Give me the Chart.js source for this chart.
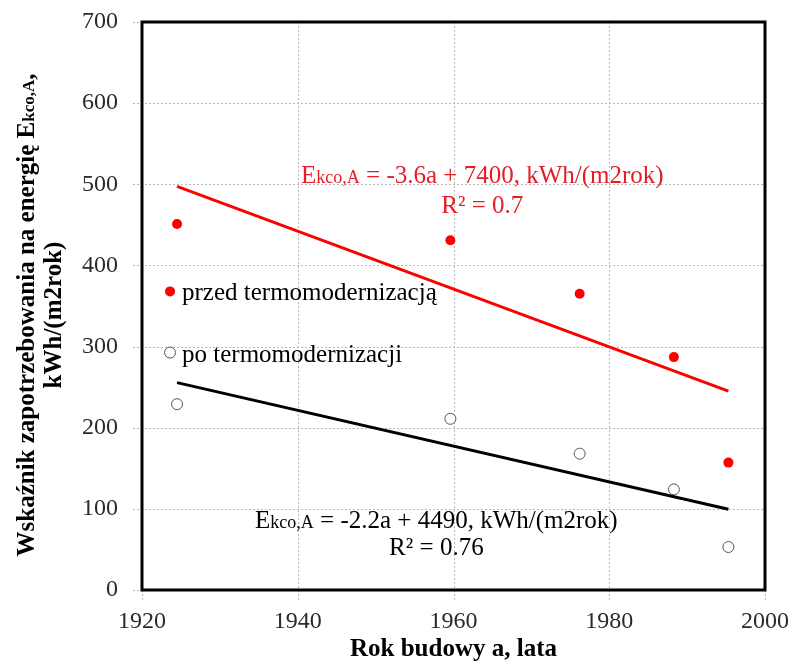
<!DOCTYPE html>
<html>
<head>
<meta charset="utf-8">
<script src="https://cdn.jsdelivr.net/npm/chart.js@4/dist/chart.umd.min.js"></script>
<style>
  html, body { margin: 0; padding: 0; background: #fff; }
  #wrap { width: 792px; height: 661px; position: relative; }
</style>
</head>
<body>
<div id="wrap"><canvas id="wykres"></canvas></div>
<script>
// rok budowy budynkow
const lata = [1924.5, 1959.6, 1976.2, 1988.3, 1995.3];
// wskaznik przed termomodernizacja
const przed = [451, 431, 365, 287, 157];
// wskaznik po termomodernizacji
const po = [229, 211, 168, 124, 53];
// linie trendu (punkty koncowe)
const trendLata = [1924.5, 1995.3];
const trendPrzed = [497.5, 245];
const trendPo = [255.6, 99.6];
const ticksX = [1920, 1940, 1960, 1980, 2000];
const ticksY = [0, 100, 200, 300, 400, 500, 600, 700];

const SERIF = "'Liberation Serif', 'Times New Roman', serif";

function pary(xs, ys) { return xs.map((x, i) => ({ x: x, y: ys[i] })); }

// tekst z mniejszym fragmentem (np. Ekco,A)
function rich(ctx, parts, cx, y, color) {
  let w = 0;
  parts.forEach(p => { ctx.font = p[1]; w += ctx.measureText(p[0]).width; });
  let x = cx - w / 2;
  ctx.fillStyle = color;
  ctx.textAlign = "left";
  ctx.textBaseline = "alphabetic";
  parts.forEach(p => { ctx.font = p[1]; ctx.fillText(p[0], x, y); x += ctx.measureText(p[0]).width; });
}

// siatka kropkowana
const siatka = {
  id: "siatka",
  beforeDatasetsDraw(chart) {
    const ctx = chart.ctx, a = chart.chartArea;
    const sx = chart.scales.x, sy = chart.scales.y;
    ctx.save();
    ctx.strokeStyle = "#b8b8b8";
    ctx.lineWidth = 1;
    ctx.setLineDash([2, 2]);
    ticksX.forEach(v => {
      const px = Math.round(sx.getPixelForValue(v)) + 0.5;
      ctx.beginPath(); ctx.moveTo(px, a.top); ctx.lineTo(px, a.bottom + 10); ctx.stroke();
    });
    ticksY.forEach(v => {
      const py = Math.round(sy.getPixelForValue(v)) + 0.5;
      ctx.beginPath(); ctx.moveTo(a.left - 9, py); ctx.lineTo(a.right, py); ctx.stroke();
    });
    ctx.restore();
  }
};

const opisy = {
  id: "opisy",
  afterDatasetsDraw(chart) {
    const ctx = chart.ctx, a = chart.chartArea;
    const sx = chart.scales.x, sy = chart.scales.y;
    ctx.save();
    // ramka wykresu
    ctx.strokeStyle = "#000";
    ctx.lineWidth = 3;
    ctx.strokeRect(a.left, a.top, a.right - a.left, a.bottom - a.top);

    const big = "25px " + SERIF, small = "18px " + SERIF;
    rich(ctx, [["E", big], ["kco,A", small], [" = -3.6a + 7400, kWh/(m2rok)", big]], sx.getPixelForValue(1963.7), sy.getPixelForValue(502), "#e31e24");
    rich(ctx, [["R² = 0.7", big]], sx.getPixelForValue(1963.7), sy.getPixelForValue(465), "#e31e24");
    rich(ctx, [["E", big], ["kco,A", small], [" = -2.2a + 4490, kWh/(m2rok)", big]], sx.getPixelForValue(1957.8), sy.getPixelForValue(77), "#000");
    rich(ctx, [["R² = 0.76", big]], sx.getPixelForValue(1957.8), sy.getPixelForValue(43), "#000");

    // legenda
    const lx = sx.getPixelForValue(1923.6);
    const l1 = sy.getPixelForValue(368), l2 = sy.getPixelForValue(292.6);
    ctx.beginPath(); ctx.arc(lx, l1, 5, 0, Math.PI * 2);
    ctx.fillStyle = "#ff0000"; ctx.fill();
    ctx.beginPath(); ctx.arc(lx, l2, 5.5, 0, Math.PI * 2);
    ctx.fillStyle = "#fff"; ctx.fill();
    ctx.strokeStyle = "#555"; ctx.lineWidth = 1; ctx.stroke();
    ctx.font = big; ctx.fillStyle = "#000"; ctx.textAlign = "left"; ctx.textBaseline = "alphabetic";
    ctx.fillText("przed termomodernizacją", lx + 12, l1 + 9);
    ctx.fillText("po termomodernizacji", lx + 12, l2 + 9);

    // tytuly osi
    const bold = "bold 25px " + SERIF, boldSmall = "bold 17px " + SERIF;
    ctx.save();
    ctx.translate(34, 315);
    ctx.rotate(-Math.PI / 2);
    rich(ctx, [["Wskaźnik zapotrzebowania na energię E", bold], ["kco,A", boldSmall], [",", bold]], 0, 0, "#000");
    ctx.restore();
    ctx.save();
    ctx.translate(61, 315);
    ctx.rotate(-Math.PI / 2);
    rich(ctx, [["kWh/(m2rok)", bold]], 0, 0, "#000");
    ctx.restore();
    rich(ctx, [["Rok budowy a, lata", bold]], (a.left + a.right) / 2, 656, "#000");
    ctx.restore();
  }
};

new Chart(document.getElementById("wykres"), {
  type: "scatter",
  data: {
    datasets: [
      { label: "trend przed", type: "line", data: pary(trendLata, trendPrzed), borderColor: "#ff0000", borderWidth: 3, pointRadius: 0, fill: false },
      { label: "trend po", type: "line", data: pary(trendLata, trendPo), borderColor: "#000", borderWidth: 3, pointRadius: 0, fill: false },
      { label: "przed termomodernizacją", data: pary(lata, przed), backgroundColor: "#ff0000", borderColor: "#ff0000", pointRadius: 5, borderWidth: 0 },
      { label: "po termomodernizacji", data: pary(lata, po), backgroundColor: "#fff", borderColor: "#555", pointRadius: 5.5, borderWidth: 1 }
    ]
  },
  options: {
    responsive: true,
    maintainAspectRatio: false,
    animation: false,
    layout: { padding: { top: 22, right: 27, left: 0, bottom: 0 } },
    plugins: { legend: { display: false }, tooltip: { enabled: false } },
    scales: {
      x: {
        type: "linear", min: 1920, max: 2000,
        afterBuildTicks: s => { s.ticks = ticksX.map(v => ({ value: v })); },
        afterFit: s => { s.height = 71; s.paddingLeft = 0; s.paddingRight = 0; },
        grid: { color: "rgba(0,0,0,0)", tickLength: 10 },
        border: { display: false },
        ticks: { color: "#2a2a2a", font: { family: SERIF, size: 24 }, padding: 7, callback: v => String(v) }
      },
      y: {
        type: "linear", min: 0, max: 700,
        afterBuildTicks: s => { s.ticks = ticksY.map(v => ({ value: v })); },
        afterFit: s => { s.width = 142; s.paddingTop = 0; s.paddingBottom = 0; },
        grid: { color: "rgba(0,0,0,0)", tickLength: 9 },
        border: { display: false },
        ticks: { color: "#2a2a2a", font: { family: SERIF, size: 24 }, padding: 15, callback: v => String(v) }
      }
    }
  },
  plugins: [siatka, opisy]
});
</script>
</body>
</html>
